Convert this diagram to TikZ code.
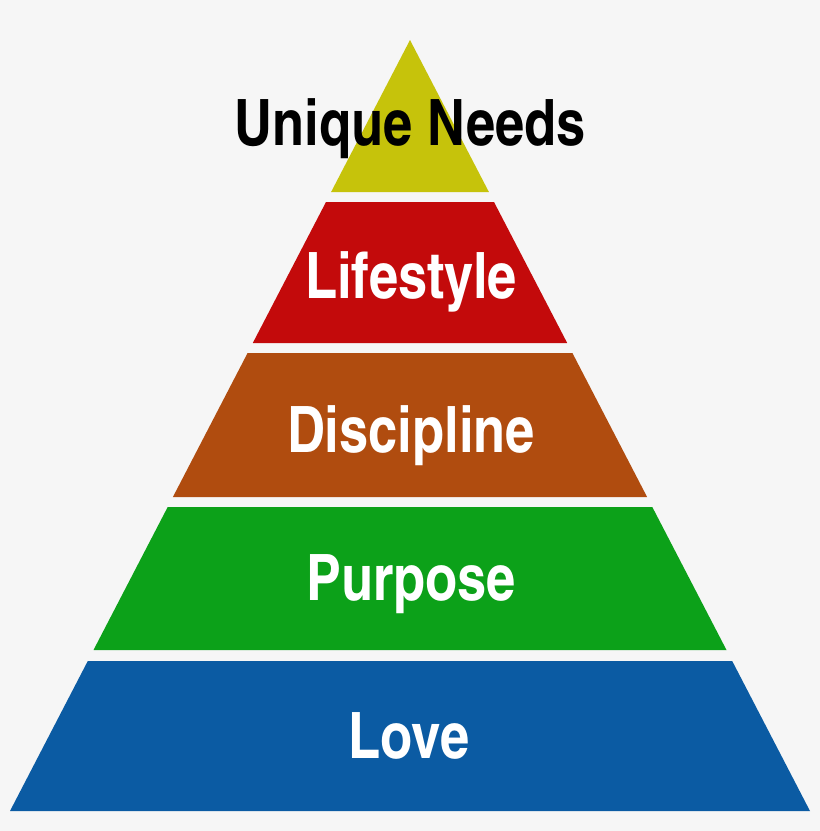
\documentclass[tikz,border=0pt]{standalone}
\usepackage{fontspec}
\usepackage{tikz}
\usetikzlibrary{calc,positioning}

\newfontfamily\pyrfont{texgyreheroscn-bold.otf}

\definecolor{pyrback}{HTML}{F6F6F6}
\definecolor{pyryellow}{HTML}{C6C30B}
\definecolor{pyrred}{HTML}{C30A0B}
\definecolor{pyrbrown}{HTML}{B04C0F}
\definecolor{pyrgreen}{HTML}{0CA119}
\definecolor{pyrblue}{HTML}{0B5BA3}

\tikzset{
    level/.style={font=\pyrfont\fontsize{64}{64}\selectfont, text=white, anchor=base, inner sep=0pt},
}

\begin{document}
\begin{tikzpicture}[x=1pt, y=-1pt]

    \fill[pyrback] (0,0) rectangle (820,831);
    \useasboundingbox (0,0) rectangle (820,831);

    % bands, bottom to top
    \fill[pyrblue]   (87.8,661) -- (732.2,661) -- (810,811) -- (10,811) -- cycle;
    \fill[pyrgreen]  (167.7,507) -- (652.3,507) -- (726.5,650) -- (93.5,650) -- cycle;
    \fill[pyrbrown]  (247.6,353) -- (572.4,353) -- (647.1,497) -- (172.9,497) -- cycle;
    \fill[pyrred]    (326.0,202) -- (494.0,202) -- (567.2,343) -- (252.8,343) -- cycle;
    \fill[pyryellow] (410,40) -- (488.9,192) -- (331.1,192) -- cycle;

    \node[level, text=black] (needs) at (410,145) {Unique Needs};
    \node[level] (lifestyle)  at (411,298) {Lifestyle};
    \node[level] (discipline) at (411,452) {Discipline};
    \node[level] (purpose)    at (411,600) {Purpose};
    \node[level] (love)       at (409,758) {Love};

\end{tikzpicture}
\end{document}
